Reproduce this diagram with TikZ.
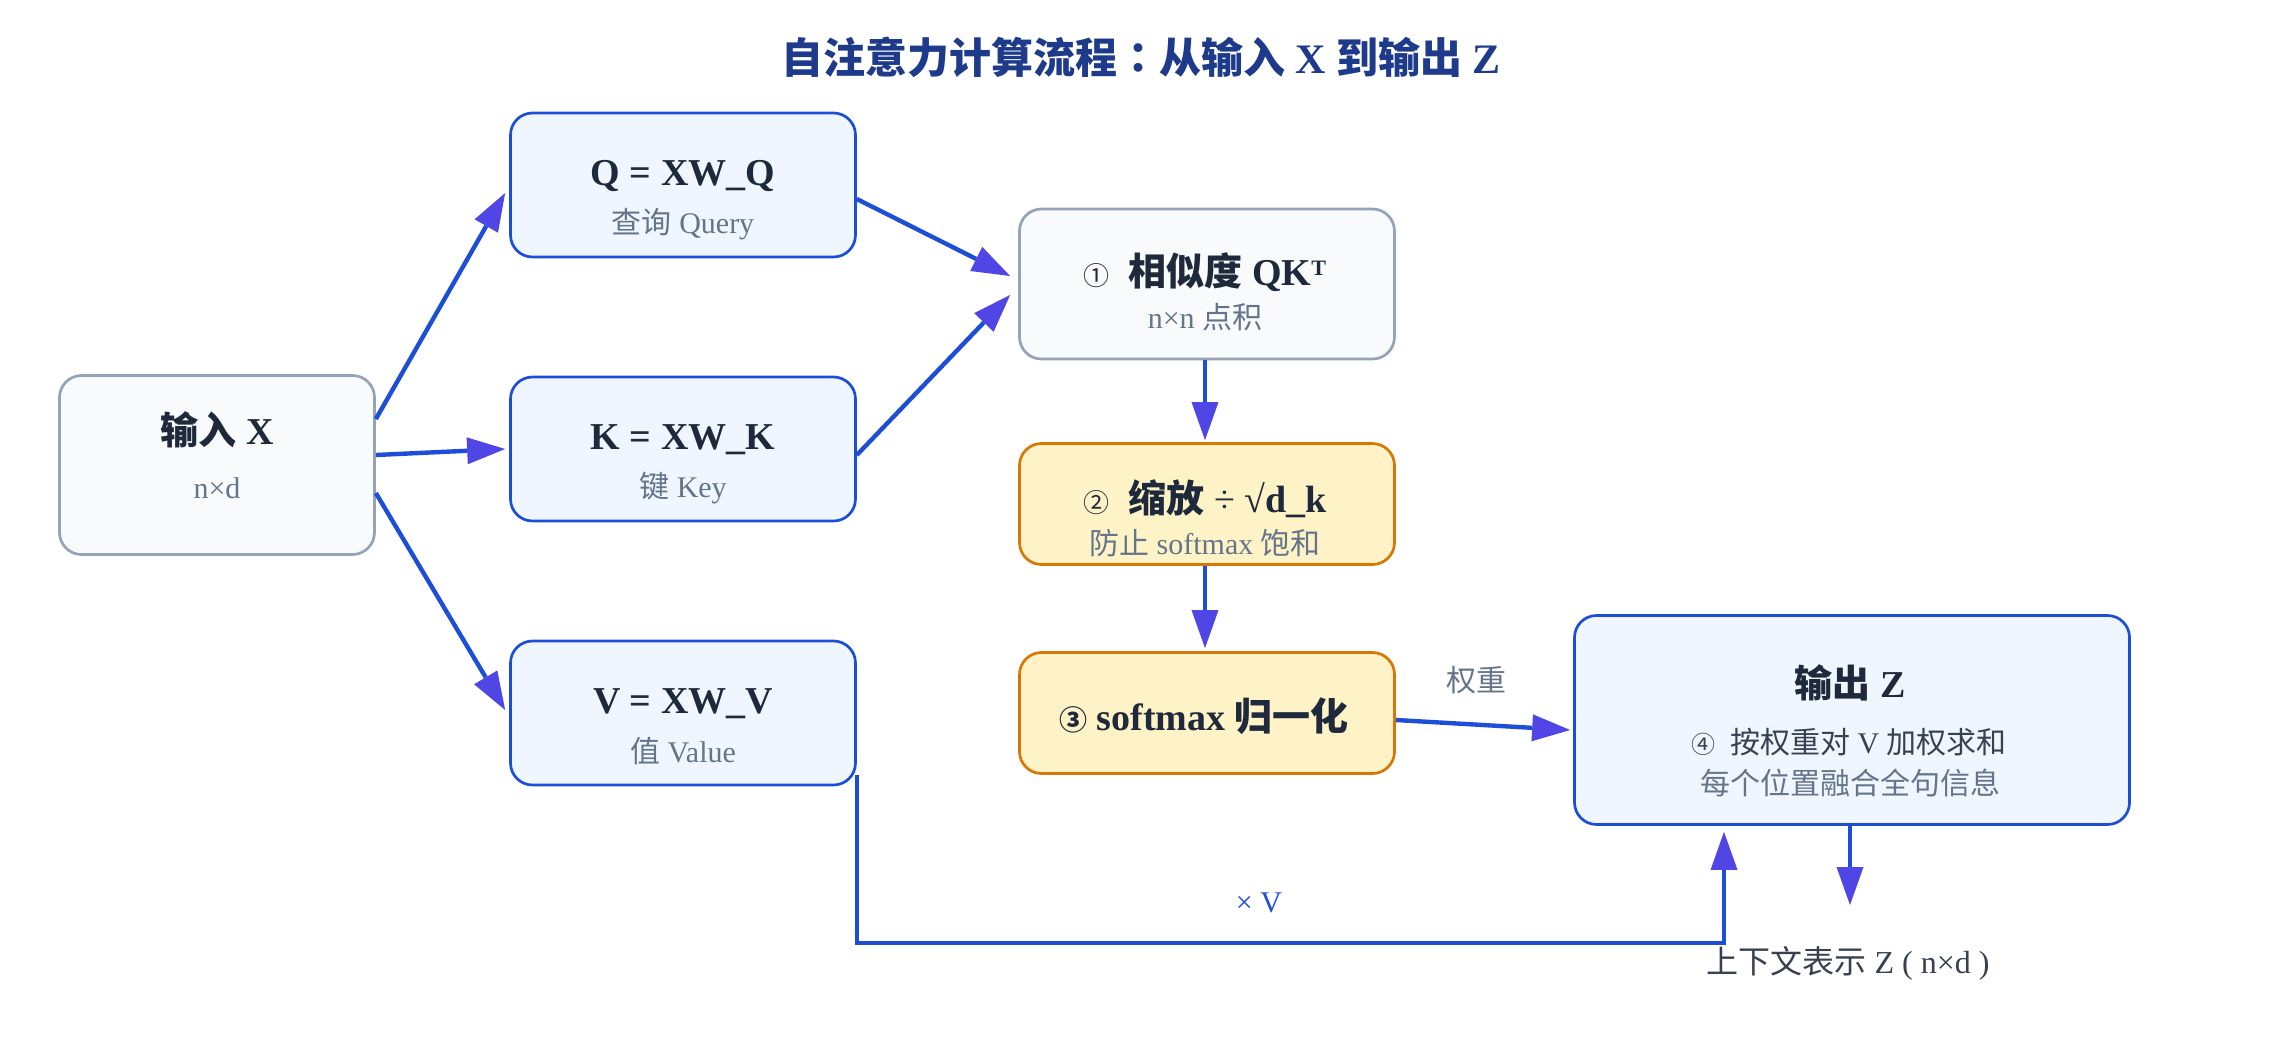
\documentclass[tikz,border=0pt]{standalone}
\usepackage{fontspec}
\setmainfont{Liberation Serif}
\newfontfamily\zhfont{Noto Sans CJK SC}
\newfontfamily\zhtcfont{Noto Sans CJK TC}
\newcommand\zh[1]{{\zhfont #1}}
\usetikzlibrary{arrows.meta,calc}
\definecolor{slateb}{HTML}{94A3B8}
\definecolor{slatef}{HTML}{F8FAFC}
\definecolor{blueb}{HTML}{1D4ED8}
\definecolor{bluef}{HTML}{EFF6FF}
\definecolor{ambb}{HTML}{D97706}
\definecolor{ambf}{HTML}{FEF3C7}
\definecolor{linec}{HTML}{1D4ED8}
\definecolor{tipc}{HTML}{4F46E5}
\definecolor{ink}{HTML}{1E293B}
\definecolor{muted}{HTML}{64748B}
\definecolor{darkgray}{HTML}{374151}
\definecolor{titlec}{HTML}{1E3A8A}
\begin{document}
\begin{tikzpicture}[x=0.5pt,y=-0.5pt,
  box/.style={draw, rounded corners=11pt, line width=1.35pt, inner sep=0pt},
  graybox/.style={box, draw=slateb, fill=slatef},
  bluebox/.style={box, draw=blueb, fill=bluef},
  ambbox/.style={box, draw=ambb, fill=ambf},
  conn/.style={draw=linec, line width=2.2pt, -{Triangle[length=19pt,width=13.5pt,color=tipc,fill=tipc,line width=0pt]}},
  maintext/.style={font=\fontsize{19}{22}\selectfont\bfseries, text=ink, inner sep=0pt},
  subtext/.style={font=\fontsize{15}{18}\selectfont, text=muted, inner sep=0pt},
  lbl/.style={font=\fontsize{15}{18}\selectfont, inner sep=0pt}
]
\useasboundingbox (0,0) rectangle (2280,1050);
\fill[white] (0,0) rectangle (2280,1050);

% title
\node[font=\fontsize{21}{24}\selectfont\bfseries, text=titlec, inner sep=0pt] (title) at (1141,57)
  {\zh{自注意力计算流程}{\zhtcfont ：}\zh{从输入} X \zh{到输出} Z};

% boxes
\node[graybox, minimum width=157.5pt, minimum height=89.5pt] (X) at (217,465) {};
\node[bluebox, minimum width=172.5pt, minimum height=72pt] (Q) at (683,185) {};
\node[bluebox, minimum width=172.5pt, minimum height=72pt] (K) at (683,449) {};
\node[bluebox, minimum width=172.5pt, minimum height=72pt] (V) at (683,713) {};
\node[graybox, minimum width=187.5pt, minimum height=75pt] (S1) at (1207,284) {};
\node[ambbox, minimum width=187.5pt, minimum height=60.5pt] (S2) at (1207,504) {};
\node[ambbox, minimum width=187.5pt, minimum height=60.5pt] (S3) at (1207,713) {};
\node[bluebox, minimum width=277.5pt, minimum height=104.5pt] (Z) at (1852,720) {};

% box texts
\node[maintext] (Xt) at (217,430) {\zh{输入} X};
\node[subtext] (Xs) at (217,488) {n×d};
\node[maintext] (Qt) at (683,176) {Q = XW\_Q};
\node[subtext] (Qs) at (683,224) {\zh{查询} Query};
\node[maintext] (Kt) at (683,440) {K = XW\_K};
\node[subtext] (Ks) at (683,488) {\zh{键} Key};
\node[maintext] (Vt) at (683,704) {V = XW\_V};
\node[subtext] (Vs) at (683,751) {\zh{值} Value};
\node[maintext] (S1t) at (1205,272) {{\zhfont\mdseries\fontsize{13}{13}\selectfont ①}\ \ \zh{相似度} QK\raisebox{5pt}{\fontsize{11}{11}\selectfont T}};
\node[subtext] (S1s) at (1205,317) {n×n \zh{点积}};
\node[maintext] (S2t) at (1205,499) {{\zhfont\mdseries\fontsize{13}{13}\selectfont ②}\ \ \zh{缩放} {\mdseries ÷} √d\_k};
\node[subtext] (S2s) at (1205,543) {\zh{防止} softmax \zh{饱和}};
\node[maintext] (S3t) at (1204,716) {{\zhfont\fontsize{14}{14}\selectfont ③} softmax \zh{归一化}};
\node[maintext] (Zt) at (1850,683) {\zh{输出} Z};
\node[lbl, text=darkgray] (Zs1) at (1849,742) {{\zhfont\fontsize{12}{12}\selectfont ④}\ \ \zh{按权重对} V \zh{加权求和}};
\node[subtext] (Zs2) at (1850,783) {\zh{每个位置融合全句信息}};

% connectors
\draw[conn] ($(X.east)+(0,-46)$) -- ($(Q.west)+(-4,8)$);
\draw[conn] ($(X.east)+(0,-10)$) -- ($(K.west)+(-4,0)$);
\draw[conn] ($(X.east)+(0,28)$) -- ($(V.west)+(-4,-3)$);
\draw[conn] ($(Q.east)+(0,14)$) -- ($(S1.west)+(-8,-8)$);
\draw[conn] ($(K.east)+(0,6)$) -- ($(S1.west)+(-8,11)$);
\draw[conn] ($(S1.south)+(-2,0)$) -- ($(S2.north)+(-2,-2)$);
\draw[conn] ($(S2.south)+(-2,0)$) -- ($(S3.north)+(-2,-3)$);
\draw[conn] ($(S3.east)+(0,7)$) -- ($(Z.west)+(-3,10)$);
\node[lbl, text=muted] (wlab) at (1476,680) {\zh{权重}};
\draw[conn, line join=miter] ($(V.east)+(0,62)$) -- ++(0,168) -| ($(Z.south)+(-128,6)$);
\node[lbl, text=blueb] (xv) at (1259,903) {× V};
\coordinate (zend) at (1850,905);
\draw[conn] ($(Z.south)+(-2,0)$) -- (zend);
\node[lbl, font=\fontsize{16}{18}\selectfont, text=darkgray] (zlab) at (1848,963) {\zh{上下文表示} Z ( n×d )};
\end{tikzpicture}
\end{document}
